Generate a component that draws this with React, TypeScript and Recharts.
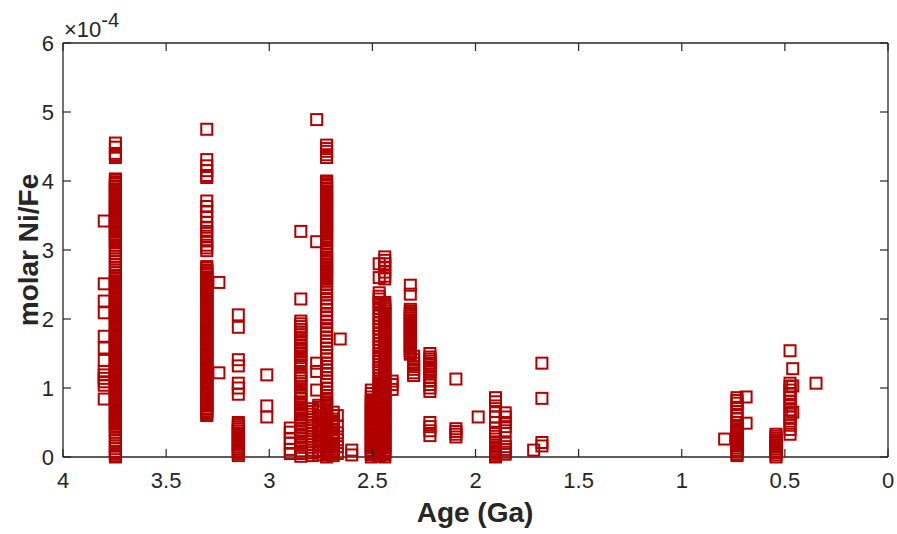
import { ScatterChart, Scatter, XAxis, YAxis } from "recharts";

// molar Ni/Fe in units of 1e-4, grouped by age (Ga)
const c380 = [3.42, 2.51, 2.26, 2.09, 1.75, 1.58, 1.4, 1.24, 1.19, 1.14, 1.09, 1.04, 0.84];
const c375 = [
  4.55, 4.49, 4.4, 4.37, 4.34,
  4.03, 4.01, 3.98, 3.96, 3.93, 3.91, 3.88, 3.86, 3.83, 3.81, 3.78, 3.76, 3.73, 3.71, 3.68, 3.66, 3.63,
  3.61, 3.58, 3.56, 3.53, 3.51, 3.48, 3.46, 3.43, 3.41, 3.38, 3.36, 3.33, 3.31, 3.28, 3.26, 3.23, 3.21,
  3.18, 3.16, 3.13, 3.11, 3.07, 3.03, 2.99, 2.95, 2.91, 2.87, 2.83, 2.79, 2.75, 2.71, 2.67, 2.63, 2.6,
  2.58, 2.55, 2.53, 2.5, 2.48, 2.45, 2.43, 2.4, 2.38, 2.35, 2.33, 2.3, 2.28, 2.25, 2.23, 2.2, 2.18,
  2.15, 2.13, 2.1, 2.08, 2.05, 2.03, 2.0, 1.98, 1.95, 1.93, 1.9, 1.88, 1.85, 1.83, 1.8, 1.78, 1.75,
  1.73, 1.7, 1.68, 1.65, 1.63, 1.6, 1.58, 1.55, 1.53, 1.5, 1.48, 1.45, 1.43, 1.4, 1.38, 1.35, 1.33,
  1.3, 1.28, 1.25, 1.23, 1.2, 1.18, 1.15, 1.13, 1.1, 1.08, 1.05, 1.03, 1.0, 0.98, 0.95, 0.93, 0.9,
  0.88, 0.85, 0.83, 0.8, 0.78, 0.75, 0.73, 0.7, 0.68, 0.65, 0.63, 0.6, 0.58, 0.55, 0.53, 0.5, 0.48,
  0.45, 0.43, 0.4, 0.36, 0.32, 0.28, 0.24, 0.2, 0.16, 0.12, 0.08, 0.05, 0.02, 0.0,
];
const c330 = [
  4.75, 4.31, 4.22, 4.15, 4.08, 4.05, 3.71, 3.63, 3.56, 3.48, 3.4, 3.33, 3.27, 3.2, 3.13, 3.07, 3.03, 2.99,
  2.76, 2.74, 2.71, 2.69, 2.66, 2.64, 2.61, 2.59, 2.56, 2.54, 2.51, 2.49, 2.46, 2.44, 2.41, 2.39, 2.36,
  2.34, 2.31, 2.29, 2.26, 2.24, 2.21, 2.19, 2.16, 2.14, 2.11, 2.09, 2.06, 2.04, 2.01, 1.99, 1.96, 1.94,
  1.91, 1.89, 1.86, 1.84, 1.81, 1.79, 1.76, 1.74, 1.71, 1.69, 1.66, 1.64, 1.61, 1.59, 1.56, 1.54, 1.51,
  1.49, 1.46, 1.44, 1.41, 1.39, 1.36, 1.34, 1.31, 1.29, 1.26, 1.24, 1.21, 1.19, 1.16, 1.14, 1.11, 1.09,
  1.06, 1.04, 1.01, 0.99, 0.96, 0.94, 0.91, 0.89, 0.86, 0.84, 0.81, 0.79, 0.76, 0.74, 0.71, 0.69, 0.66,
  0.64, 0.62, 0.6,
];
const c325 = [2.53, 1.22];
const c315 = [
  2.06, 1.88, 1.41, 1.32, 1.07, 1.0, 0.91,
  0.5, 0.47, 0.44, 0.41, 0.38, 0.35, 0.32, 0.29, 0.26, 0.23, 0.2, 0.17, 0.14, 0.11, 0.08, 0.05, 0.02,
];
const c301 = [1.19, 0.74, 0.58];
const c290 = [0.42, 0.36, 0.27, 0.2, 0.11, 0.05];
const c285 = [
  3.27, 2.29, 1.97, 1.93, 1.89, 1.85, 1.81, 1.77, 1.72, 1.67, 1.62, 1.58, 1.54, 1.49, 1.44, 1.4, 1.36,
  1.31, 1.22, 1.18, 1.14, 1.1, 1.06, 1.01, 0.96, 0.92, 0.88, 0.84, 0.79, 0.75, 0.7, 0.66, 0.61, 0.56,
  0.52, 0.47, 0.42, 0.37, 0.33, 0.28, 0.23, 0.18, 0.14, 0.09, 0.05, 0.01,
];
const c279 = [0.7, 0.66, 0.62, 0.58, 0.54, 0.5, 0.46, 0.42, 0.38, 0.34, 0.3, 0.26, 0.22, 0.18, 0.14, 0.1, 0.06, 0.02];
const c277 = [4.89, 3.12, 1.36, 1.24, 0.97];
const c276 = [
  0.75, 0.72, 0.68, 0.65, 0.6, 0.57, 0.55, 0.51, 0.47, 0.44, 0.4, 0.37, 0.32, 0.29, 0.25, 0.22, 0.18,
  0.15, 0.1, 0.07, 0.03,
];
const c272 = [
  4.52, 4.47, 4.43, 4.38, 4.34,
  4.0, 3.98, 3.95, 3.93, 3.9, 3.88, 3.85, 3.83, 3.8, 3.78, 3.75, 3.73, 3.7, 3.68, 3.65, 3.63, 3.6,
  3.58, 3.55, 3.53, 3.5, 3.48, 3.45, 3.43, 3.4, 3.38, 3.35, 3.33, 3.3, 3.28, 3.25, 3.23, 3.2, 3.18,
  3.15, 3.13, 3.09, 3.04, 2.99, 2.94, 2.9, 2.88, 2.85, 2.83, 2.8, 2.78, 2.75, 2.73, 2.7, 2.68, 2.65,
  2.63, 2.6, 2.58, 2.55, 2.5, 2.44, 2.39, 2.35, 2.3, 2.24, 2.19, 2.13, 2.07, 2.02, 1.96, 1.9, 1.84,
  1.79, 1.73, 1.68, 1.63, 1.58, 1.52, 1.47, 1.42, 1.36, 1.31, 1.26, 1.21, 1.15, 1.1, 1.05, 1.0, 0.94,
  0.89, 0.85, 0.83, 0.8, 0.78, 0.75, 0.73, 0.7, 0.68, 0.65, 0.63, 0.6, 0.58, 0.55, 0.53, 0.5, 0.48,
  0.45, 0.43, 0.4, 0.38, 0.35, 0.33, 0.3, 0.28, 0.25, 0.23, 0.2, 0.18, 0.15, 0.13, 0.1, 0.08, 0.05,
  0.03, 0.0,
];
const c269 = [
  0.65, 0.6, 0.55, 0.52, 0.5, 0.47, 0.44, 0.4, 0.36, 0.33, 0.28, 0.25, 0.2, 0.17, 0.14, 0.11, 0.08,
  0.05, 0.02,
];
const c267 = [0.6, 0.45, 0.35, 0.25, 0.15, 0.05];
const c266 = [1.71];
const c260 = [0.1, 0.03];
const c250 = [
  0.97, 0.92, 0.87, 0.83, 0.8, 0.78, 0.75, 0.73, 0.7, 0.68, 0.65, 0.63, 0.6, 0.58, 0.55, 0.53, 0.5,
  0.48, 0.45, 0.43, 0.4, 0.38, 0.35, 0.33, 0.3, 0.28, 0.25, 0.23, 0.2, 0.18, 0.15, 0.13, 0.1, 0.08,
  0.05, 0.03, 0.0,
];
const c247 = [
  2.8, 2.6, 2.38, 2.33, 2.29, 2.24, 2.2, 2.15, 2.1, 2.05, 2.0, 1.95, 1.9, 1.85, 1.8, 1.75, 1.7, 1.65,
  1.6, 1.55, 1.5, 1.46, 1.42, 1.38, 1.34, 1.3, 1.26, 1.22, 1.18, 1.14, 1.1, 1.07, 1.05, 1.02, 1.0,
  0.97, 0.95, 0.92, 0.9, 0.87, 0.85, 0.82, 0.8, 0.77, 0.75, 0.72, 0.7, 0.67, 0.65, 0.62, 0.6, 0.57,
  0.55, 0.52, 0.5, 0.47, 0.45, 0.42, 0.4, 0.37, 0.35, 0.32, 0.3, 0.27, 0.25, 0.22, 0.2, 0.17, 0.15,
  0.12, 0.1, 0.07, 0.05, 0.02,
];
const c244 = [
  2.9, 2.85, 2.8, 2.75, 2.68, 2.62, 2.58, 2.24, 2.21, 2.18, 2.15, 2.12, 2.09, 2.06, 2.03, 2.0, 1.97,
  1.94, 1.91, 1.88, 1.85, 1.82, 1.79, 1.76, 1.73, 1.7, 1.67, 1.64, 1.61, 1.58, 1.55, 1.52, 1.49, 1.46,
  1.43, 1.4, 1.37, 1.34, 1.31, 1.28, 1.25, 1.22, 1.19, 1.16, 1.13, 1.1, 1.08, 1.05, 1.03, 1.0, 0.98,
  0.95, 0.93, 0.9, 0.88, 0.85, 0.83, 0.8, 0.78, 0.75, 0.73, 0.7, 0.68, 0.65, 0.63, 0.6, 0.58, 0.55,
  0.53, 0.5, 0.48, 0.45, 0.43, 0.4, 0.38, 0.35, 0.33, 0.3, 0.28, 0.25, 0.23, 0.2, 0.18, 0.15, 0.13,
  0.1, 0.08, 0.05, 0.03, 0.0,
];
const c240 = [1.1, 1.05, 0.98];
const c232 = [
  2.49, 2.36, 2.14, 2.11, 2.08, 2.05, 2.02, 1.99, 1.96, 1.93, 1.9, 1.87, 1.84, 1.81, 1.78, 1.75, 1.72,
  1.69, 1.66, 1.63, 1.6, 1.57, 1.54, 1.51, 1.49,
];
const c230 = [1.46, 1.41, 1.36, 1.31, 1.27, 1.22, 1.18];
const c222 = [
  1.5, 1.45, 1.42, 1.39, 1.36, 1.33, 1.3, 1.27, 1.24, 1.2, 1.15, 1.1, 1.05, 1.0, 0.95, 0.5, 0.44, 0.38,
  0.31,
];
const c210 = [1.13, 0.41, 0.37, 0.33, 0.29];
const c199 = [0.58];
const c190 = [0.86, 0.8, 0.74, 0.66, 0.58, 0.5, 0.42, 0.36, 0.3, 0.22, 0.17, 0.14, 0.11, 0.08, 0.05, 0.02, 0.0];
const c186 = [0.64, 0.58, 0.5, 0.44, 0.38, 0.2, 0.15, 0.11, 0.07, 0.04];
const c172 = [0.1];
const c168 = [1.36, 0.85, 0.21, 0.16];
const c079 = [0.26];
const c073 = [
  0.86, 0.82, 0.78, 0.72, 0.66, 0.6, 0.55, 0.5, 0.46, 0.43, 0.4, 0.37, 0.34, 0.31, 0.28, 0.25, 0.22,
  0.19, 0.16, 0.13, 0.1, 0.07, 0.04, 0.02,
];
const c069 = [0.87, 0.49];
const c054 = [0.33, 0.3, 0.27, 0.24, 0.21, 0.18, 0.15, 0.12, 0.09, 0.06, 0.03, 0.0];
const c048 = [1.54, 1.07, 1.02, 0.97, 0.92, 0.86, 0.8, 0.74, 0.68, 0.62, 0.58, 0.52, 0.46, 0.4, 0.33];
const c046 = [1.28, 1.03, 0.65];
const c035 = [1.07];

const groups: [number, number[]][] = [
  [3.8, c380], [3.746, c375], [3.303, c330], [3.244, c325], [3.15, c315], [3.012, c301],
  [2.898, c290], [2.847, c285], [2.79, c279], [2.77, c277], [2.76, c276], [2.722, c272],
  [2.69, c269], [2.67, c267], [2.656, c266], [2.6, c260], [2.505, c250], [2.467, c247],
  [2.44, c244], [2.404, c240], [2.316, c232], [2.3, c230], [2.221, c222], [2.095, c210],
  [1.987, c199], [1.903, c190], [1.856, c186], [1.718, c172], [1.678, c168], [0.792, c079],
  [0.732, c073], [0.688, c069], [0.543, c054], [0.475, c048], [0.462, c046], [0.349, c035],
];

const points = groups.flatMap(([age, vals]) => vals.map((ni) => ({ age, ni })));

const xTicks = [0, 0.5, 1, 1.5, 2, 2.5, 3, 3.5, 4];
const yTicks = [0, 1, 2, 3, 4, 5, 6];

const AXIS = "#262626";
const RED = "#b00000";
const FONT = "'Liberation Sans', Arial, Helvetica, sans-serif";
const TICK_LEN = 8;

function Square(props: any) {
  const { cx, cy } = props;
  if (cx == null || cy == null) return null;
  const s = 11;
  return <rect x={cx - s / 2} y={cy - s / 2} width={s} height={s} fill="none" stroke={RED} strokeWidth={2} />;
}

function Nothing() {
  return <g />;
}

function BottomTick({ x, y, payload }: any) {
  return (
    <g>
      <line x1={x} x2={x} y1={y} y2={y - TICK_LEN} stroke={AXIS} strokeWidth={1.2} />
      <text x={x} y={y + 31} textAnchor="middle" fontSize={22} fill={AXIS} fontFamily={FONT}>
        {payload.value}
      </text>
    </g>
  );
}

function TopTick({ x, y }: any) {
  return <line x1={x} x2={x} y1={y} y2={y + TICK_LEN} stroke={AXIS} strokeWidth={1.2} />;
}

function LeftTick({ x, y, payload }: any) {
  return (
    <g>
      <line x1={x} x2={x + TICK_LEN} y1={y} y2={y} stroke={AXIS} strokeWidth={1.2} />
      <text x={x - 9} y={y} dy="0.36em" textAnchor="end" fontSize={22} fill={AXIS} fontFamily={FONT}>
        {payload.value}
      </text>
    </g>
  );
}

function RightTick({ x, y }: any) {
  return <line x1={x} x2={x - TICK_LEN} y1={y} y2={y} stroke={AXIS} strokeWidth={1.2} />;
}

export default function App() {
  return (
    <div style={{ position: "absolute", left: 0, top: 0, width: 897, height: 534, background: "#fff" }}>
      <svg width={897} height={534} style={{ position: "absolute", left: 0, top: 0 }}>
        <text x={64} y={37} fontSize={22} fill={AXIS} fontFamily={FONT}>
          ×10
          <tspan dy={-10} fontSize={20}>-4</tspan>
        </text>
        <text x={475} y={522} textAnchor="middle" fontSize={28} fontWeight="bold" fill={AXIS} fontFamily={FONT}>
          Age (Ga)
        </text>
        <text
          x={38}
          y={250}
          transform="rotate(-90 38 250)"
          textAnchor="middle"
          fontSize={28}
          fontWeight="bold"
          fill={AXIS}
          fontFamily={FONT}
        >
          molar Ni/Fe
        </text>
      </svg>
      <div style={{ position: "absolute", left: 0, top: 0 }}>
        <ScatterChart width={897} height={534} margin={{ top: 42, right: 8, bottom: 0, left: 0 }}>
          <XAxis
            xAxisId="b"
            type="number"
            dataKey="age"
            domain={[0, 4]}
            reversed
            ticks={xTicks}
            interval={0}
            height={77}
            tickSize={0}
            tickMargin={0}
            tickLine={false}
            axisLine={{ stroke: AXIS, strokeWidth: 1.3 }}
            tick={<BottomTick />}
          />
          <XAxis
            xAxisId="t"
            orientation="top"
            type="number"
            dataKey="age"
            domain={[0, 4]}
            reversed
            ticks={xTicks}
            interval={0}
            height={1}
            tickSize={0}
            tickMargin={0}
            tickLine={false}
            axisLine={{ stroke: AXIS, strokeWidth: 1.3 }}
            tick={<TopTick />}
          />
          <YAxis
            yAxisId="l"
            type="number"
            dataKey="ni"
            domain={[0, 6]}
            ticks={yTicks}
            interval={0}
            width={63}
            tickSize={0}
            tickMargin={0}
            tickLine={false}
            axisLine={{ stroke: AXIS, strokeWidth: 1.3 }}
            tick={<LeftTick />}
          />
          <YAxis
            yAxisId="r"
            orientation="right"
            type="number"
            dataKey="ni"
            domain={[0, 6]}
            ticks={yTicks}
            interval={0}
            width={1}
            tickSize={0}
            tickMargin={0}
            tickLine={false}
            axisLine={{ stroke: AXIS, strokeWidth: 1.3 }}
            tick={<RightTick />}
          />
          <Scatter xAxisId="t" yAxisId="r" data={points} shape={<Nothing />} isAnimationActive={false} />
          <Scatter xAxisId="b" yAxisId="l" data={points} shape={<Square />} isAnimationActive={false} />
        </ScatterChart>
      </div>
    </div>
  );
}
